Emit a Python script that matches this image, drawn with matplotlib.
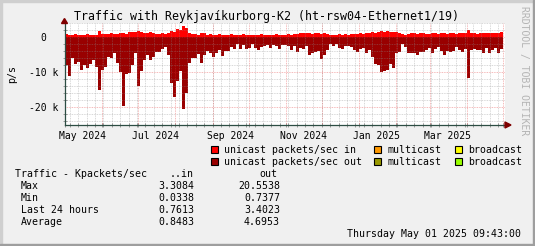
#!/usr/bin/env python3

import numpy as np
import pandas as pd
import matplotlib
matplotlib.use("Agg")
import matplotlib.pyplot as plt
import matplotlib.dates as mdates
from matplotlib.patches import Rectangle, Polygon

W, H = 535, 246

# consolidated samples, one every 2.5 days, values in k packets/sec
start = pd.Timestamp("2024-05-01 09:43")
step_days = 2.5

uni_in_k = [
    0.9, 0.8, 0.7, 0.9, 0.8, 0.7, 0.8, 0.9, 0.8, 0.7, 0.8,
    1.9,
    1.0, 0.9, 1.0, 1.1, 0.9, 1.0, 1.3, 1.2, 1.0,
    1.5, 1.6, 1.4, 1.7, 1.5, 1.3, 1.2, 1.4, 1.1, 1.0,
    1.0, 1.2, 0.9, 1.1, 1.8, 1.4,
    2.4, 2.2, 3.3, 2.8, 1.2,
    0.9, 1.0, 0.8, 1.2, 1.1, 0.8, 0.9, 0.7, 0.8, 0.9,
    0.8, 0.7, 0.8, 0.9, 0.8, 0.7, 0.8, 0.9, 0.8, 0.7,
    0.8, 0.7, 0.8, 0.9, 0.8, 0.7, 0.8, 0.7, 0.9, 0.8, 0.7,
    0.8, 0.9, 0.8, 0.9, 1.0, 1.1, 1.2, 1.1, 1.2, 1.0,
    1.1, 1.2, 1.0, 1.1, 0.9, 0.6, 0.7, 0.8, 0.9, 0.8,
    0.9, 0.8, 1.0, 0.9, 1.0, 1.1, 1.0, 1.2, 1.3, 1.4,
    1.2, 1.6, 1.9, 1.5, 1.7, 1.4, 1.6,
    1.4, 1.2, 0.9, 0.8, 1.0, 1.1, 1.2, 1.0, 1.1, 1.3,
    1.0, 0.9, 1.1, 1.2, 1.0, 1.1, 1.3, 1.0, 1.1, 1.2,
    1.0, 1.1, 1.3, 1.2, 2.1, 1.2, 1.1, 1.0, 1.2, 1.3,
    1.1, 1.2, 1.3, 1.1, 1.2, 1.4,
]

uni_out_k = [
    7.9, 11.0, 6.0, 7.5, 7.0, 9.3, 8.0, 8.8, 7.5, 6.5,
    8.4, 15.0, 9.3, 8.4, 5.5, 5.8, 4.5, 7.4, 9.8, 19.5,
    10.5, 10.3, 8.0, 4.6, 14.0, 9.5, 6.5, 5.0, 6.5, 5.5,
    4.1, 4.3, 3.2, 2.7, 5.0, 13.1, 17.0, 12.5, 9.5, 20.5,
    16.0, 7.3, 5.8, 5.8, 4.8, 7.2, 5.0, 4.0, 4.4, 5.5,
    4.5, 3.5, 5.2, 3.8, 3.8, 2.7, 3.3, 2.0, 3.3, 2.3,
    3.3, 3.0, 2.0, 3.1, 3.5, 2.7, 2.4, 2.3, 3.1, 2.1,
    2.4, 3.4, 2.2, 2.2, 2.5, 3.5, 2.6, 4.2, 3.0, 3.4,
    2.5, 5.0, 4.5, 4.3, 4.0, 6.2, 5.0, 3.5, 2.0, 2.5,
    2.0, 3.1, 3.4, 2.5, 2.5, 2.7, 3.5, 4.3, 3.3, 3.1,
    4.5, 3.5, 5.5, 7.5, 8.0, 9.8, 9.5, 9.3, 7.5, 8.8,
    4.4, 4.2, 1.9, 2.8, 4.4, 4.6, 4.4, 5.0, 4.1, 4.3,
    3.5, 3.0, 4.4, 3.4, 2.9, 3.9, 5.0, 3.8, 4.1, 3.8,
    2.8, 3.5, 4.1, 3.2, 11.5, 3.5, 3.4, 3.6, 3.5, 4.4,
    3.1, 4.4, 3.6, 3.1, 4.4, 3.4,
]

legend_rows = [
    [("#FF0000", "unicast packets/sec in"), ("#FF9900", "multicast"), ("#FFFF00", "broadcast")],
    [("#990000", "unicast packets/sec out"), ("#999900", "multicast"), ("#99FF00", "broadcast")],
]

stat_names = ["Max", "Min", "Last 24 hours", "Average"]
stat_in = ["3.3084", "0.0338", "0.7613", "0.8483"]
stat_out = ["20.5538", "0.7377", "3.4023", "4.6953"]

title = "Traffic with Reykjavíkurborg-K2 (ht-rsw04-Ethernet1/19)"
date_str = "Thursday May 01 2025 09:43:00"

label_months = ["2024-05", "2024-07", "2024-09", "2024-11", "2025-01", "2025-03"]
y_ticks = [-20000, -10000, 0]
y_labels = ["-20 k", "-10 k", "0"]

plt.rcParams["font.family"] = ["DejaVu Sans Mono"]


def fx(x):
    return x / W


def fy(y):
    return 1 - y / H


def main():
    fig = plt.figure(figsize=(W / 100, H / 100), dpi=100)
    fig.patch.set_facecolor("#F0F0F0")

    ax = fig.add_axes([fx(65), fy(125), 440 / W, 102 / H])
    ax.set_facecolor("white")

    n = len(uni_out_k)
    edges = [start + pd.Timedelta(days=step_days * i) for i in range(n + 1)]
    xe = mdates.date2num([e.to_pydatetime() for e in edges])
    vin = np.array(uni_in_k + [uni_in_k[-1]]) * 1000
    vout = -np.array(uni_out_k + [uni_out_k[-1]]) * 1000

    ax.fill_between(xe, 0, vin, step="post", color="#FF0000", lw=0, zorder=2)
    ax.fill_between(xe, 0, vout, step="post", color="#990000", lw=0, zorder=2)

    x0 = mdates.date2num(start.to_pydatetime())
    ax.set_xlim(x0, x0 + 366.7)
    ax.set_ylim(-25060, 4090)

    end = start + pd.Timedelta(days=367)
    # minor grid: weeks and 2k steps, major grid: months and 10k steps
    weeks = pd.date_range(start, end, freq="W-SUN")
    months = pd.date_range(start, end, freq="MS")
    for d in weeks:
        ax.axvline(mdates.date2num(d.to_pydatetime()), color="#8C8C8C", alpha=0.45,
                   lw=0.6, ls=(0, (1, 1)), zorder=3)
    for d in months:
        ax.axvline(mdates.date2num(d.to_pydatetime()), color="#E03030", alpha=0.45,
                   lw=0.6, ls=(0, (1, 1)), zorder=3)
    for v in np.arange(-24000, 4001, 2000):
        if v % 10000 == 0:
            ax.axhline(v, color="#E03030", alpha=0.45, lw=0.6, ls=(0, (1, 1)), zorder=3)
        else:
            ax.axhline(v, color="#8C8C8C", alpha=0.45, lw=0.6, ls=(0, (1, 1)), zorder=3)

    # x labels sit in the middle of the month (+15 days)
    lab_pos = [mdates.date2num((pd.Timestamp(m + "-01") + pd.Timedelta(days=15)).to_pydatetime())
               for m in label_months]
    lab_txt = [pd.Timestamp(m + "-01").strftime("%b %Y") for m in label_months]
    ax.set_xticks(lab_pos, lab_txt)
    ax.set_xticks(mdates.date2num([d.to_pydatetime() for d in weeks.union(months)]), minor=True)
    ax.tick_params(axis="x", which="major", length=0, pad=4.0, labelsize=7)
    ax.tick_params(axis="x", which="minor", length=3, direction="inout", color="#8C8C8C", width=0.6)

    ax.set_yticks(y_ticks, y_labels)
    ax.set_yticks(np.arange(-24000, 4001, 2000), minor=True)
    ax.tick_params(axis="y", which="major", length=0, pad=15.5, labelsize=7)
    ax.tick_params(axis="y", which="minor", length=3, direction="inout", color="#8C8C8C", width=0.6)
    for t in ax.get_yticklabels():
        t.set_ha("center")

    ax.set_ylabel("p/s", fontsize=7.2, va="center")
    ax.yaxis.set_label_coords((12 - 65) / 440, 0.5)

    for s in ["top", "right"]:
        ax.spines[s].set_visible(False)
    for s in ["left", "bottom"]:
        ax.spines[s].set_color("#2C4D43")
        ax.spines[s].set_linewidth(0.9)
        ax.spines[s].set_zorder(4)

    # axis arrows
    fig.patches.append(Polygon([(fx(61.5), fy(23.5)), (fx(67.5), fy(23.5)), (fx(64.5), fy(18.5))],
                               closed=True, color="#7F0000", transform=fig.transFigure))
    fig.patches.append(Polygon([(fx(505), fy(122)), (fx(505), fy(128)), (fx(511), fy(125))],
                               closed=True, color="#7F0000", transform=fig.transFigure))

    fig.text(fx(267), fy(20), title, ha="center", va="baseline", fontsize=8.4)
    fig.text(fx(524), fy(71), "RRDTOOL / TOBI OETIKER", rotation=270, ha="center",
             va="center", fontsize=7, color="#B4B4B4")

    # legend
    box_x = [210.7, 374.0, 454.7]
    txt_x = [223.7, 387.3, 467.7]
    row_y = [153.0, 165.3]
    for r, row in enumerate(legend_rows):
        for c, (col, name) in enumerate(row):
            fig.patches.append(Rectangle((fx(box_x[c]), fy(row_y[r] - 0.3)), 7 / W, 7 / H,
                                         facecolor=col, edgecolor="black", lw=0.8,
                                         transform=fig.transFigure))
            fig.text(fx(txt_x[c]), fy(row_y[r]), name, ha="left", va="baseline", fontsize=7.1)

    # stats table
    fig.text(fx(15), fy(177), "Traffic - Kpackets/sec", ha="left", va="baseline", fontsize=7.1)
    fig.text(fx(194), fy(177), "..in", ha="right", va="baseline", fontsize=7.1)
    fig.text(fx(277.5), fy(177), "out", ha="right", va="baseline", fontsize=7.1)
    for i, name in enumerate(stat_names):
        yy = 189 + 12 * i
        fig.text(fx(20.7), fy(yy), name, ha="left", va="baseline", fontsize=7.1)
        fig.text(fx(194), fy(yy), stat_in[i], ha="right", va="baseline", fontsize=7.1)
        fig.text(fx(280), fy(yy), stat_out[i], ha="right", va="baseline", fontsize=7.1)

    fig.text(fx(521), fy(237), date_str, ha="right", va="baseline", fontsize=7.1)

    # 3d border
    fig.patches.append(Rectangle((0, 0), 2 / W, 1, color="#CFCFCF", transform=fig.transFigure))
    fig.patches.append(Rectangle((0, 1 - 2 / H), 1, 2 / H, color="#CFCFCF", transform=fig.transFigure))
    fig.patches.append(Rectangle((1 - 2 / W, 0), 2 / W, 1, color="#9E9E9E", transform=fig.transFigure))
    fig.patches.append(Rectangle((0, 0), 1, 2 / H, color="#9E9E9E", transform=fig.transFigure))

    fig.savefig("out.png", dpi=100, facecolor=fig.get_facecolor())

    return 0


if __name__ == '__main__':
    main()
